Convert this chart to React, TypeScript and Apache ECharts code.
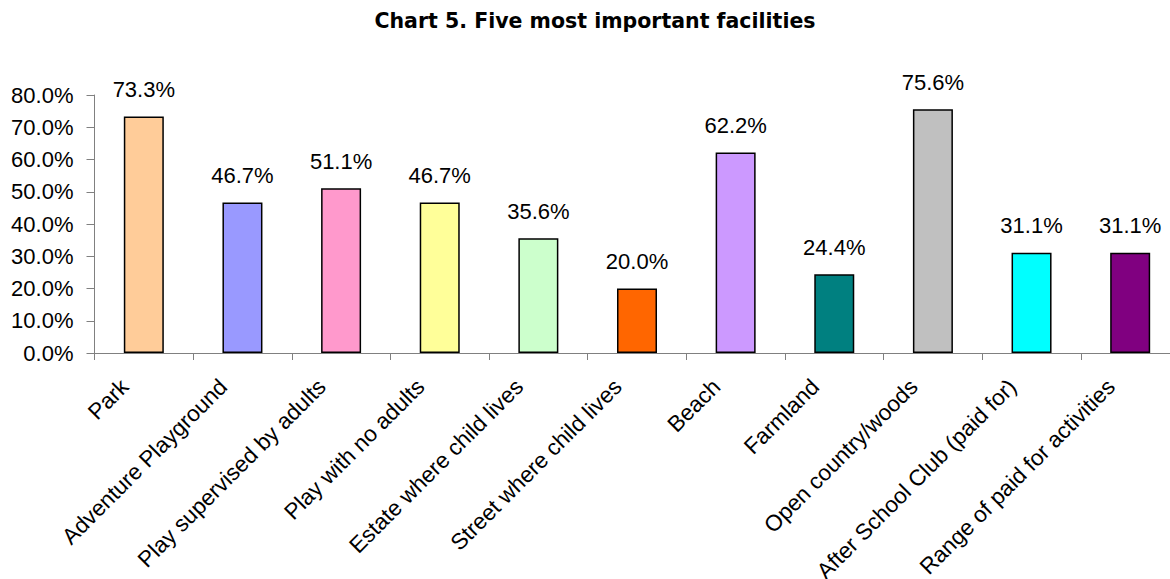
import React, { useEffect, useRef } from "react";
import * as echarts from "echarts";

const categories = [
  "Park",
  "Adventure Playground",
  "Play supervised by adults",
  "Play with no adults",
  "Estate where child lives",
  "Street where child lives",
  "Beach",
  "Farmland",
  "Open country/woods",
  "After School Club (paid for)",
  "Range of paid for activities",
];
const values = [73.3, 46.7, 51.1, 46.7, 35.6, 20.0, 62.2, 24.4, 75.6, 31.1, 31.1];
const barColors = [
  "#FFCC99",
  "#9999FF",
  "#FF99CC",
  "#FFFF99",
  "#CCFFCC",
  "#FF6600",
  "#CC99FF",
  "#008080",
  "#C0C0C0",
  "#00FFFF",
  "#800080",
];
const yTicks = { min: 0, max: 80, interval: 10 };
const titleText = "Chart 5. Five most important facilities";

const FONT = "Arial, 'Liberation Sans', sans-serif";

export default function App() {
  const ref = useRef<HTMLDivElement>(null);
  useEffect(() => {
    document.body.style.margin = "0";
    document.body.style.overflow = "hidden";
    const chart = echarts.init(ref.current!, undefined, { renderer: "svg" });
    chart.setOption({
      animation: false,
      backgroundColor: "#ffffff",
      title: {
        text: titleText,
        left: 590,
        textAlign: "center",
        top: 5,
        textStyle: { fontFamily: "'DejaVu Sans', sans-serif", fontSize: 20.5, fontWeight: "bold", color: "#000" },
      },
      grid: {
        left: 94.5,
        top: 95,
        width: 1085,
        height: 258,
        containLabel: false,
        outerBoundsMode: "none",
      },
      xAxis: {
        type: "category",
        data: categories,
        boundaryGap: true,
        axisLine: { show: true, lineStyle: { color: "#808080", width: 1 } },
        axisTick: { show: true, length: 7, alignWithLabel: false, lineStyle: { color: "#808080" } },
        axisLabel: {
          interval: 0,
          rotate: 45,
          margin: 11,
          padding: [0, 27, 0, 0],
          fontFamily: FONT,
          fontSize: 22.5,
          color: "#000",
        },
        splitLine: { show: false },
      },
      yAxis: {
        type: "value",
        min: yTicks.min,
        max: yTicks.max,
        interval: yTicks.interval,
        axisLine: { show: true, lineStyle: { color: "#808080", width: 1 } },
        axisTick: { show: true, length: 8, inside: false, lineStyle: { color: "#808080" } },
        axisLabel: {
          margin: 21,
          fontFamily: FONT,
          fontSize: 22,
          color: "#000",
          formatter: (v: number) => v.toFixed(1) + "%",
        },
        splitLine: { show: false },
      },
      series: [
        {
          type: "bar",
          barWidth: 40,
          data: values.map((v, i) => ({
            value: v,
            itemStyle: { color: barColors[i], borderColor: "#000", borderWidth: 1.5 },
          })),
          label: {
            show: true,
            position: "top",
            distance: 16,
            fontFamily: FONT,
            fontSize: 22,
            color: "#000",
            formatter: (p: any) => Number(p.value).toFixed(1) + "%",
          },
        },
      ],
    });
    return () => chart.dispose();
  }, []);
  return (
    <div style={{ width: 1170, height: 579, overflow: "hidden", position: "relative" }}>
      <div ref={ref} style={{ width: 1190, height: 579 }} />
    </div>
  );
}
